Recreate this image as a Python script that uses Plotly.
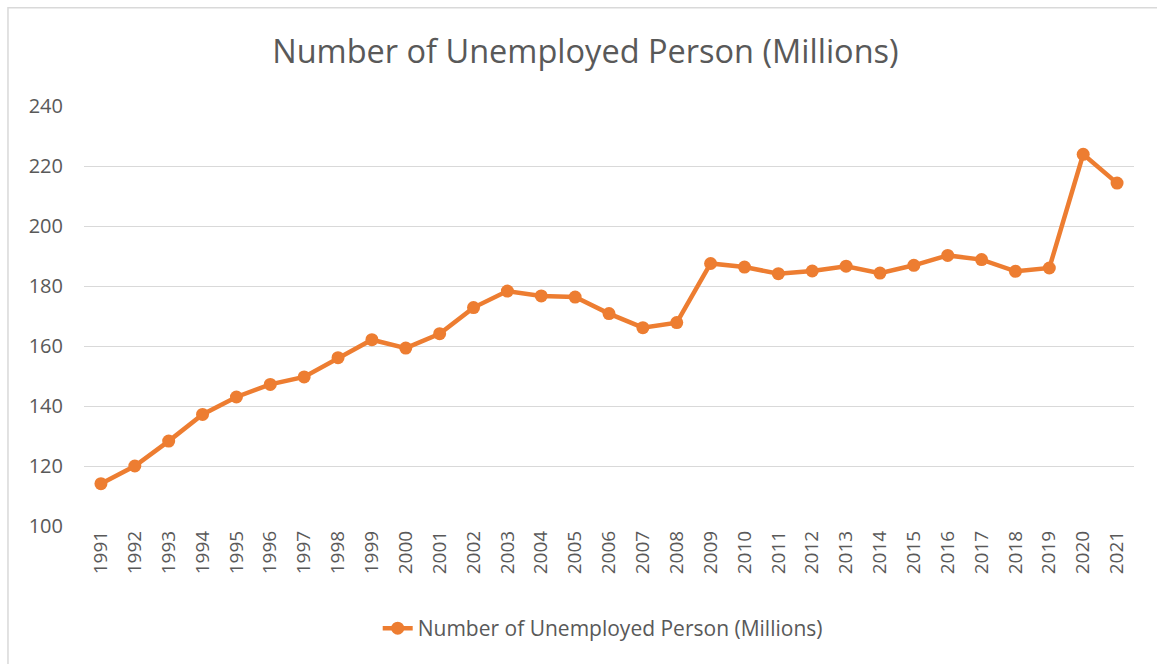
import plotly.graph_objects as go

years = [str(y) for y in range(1991, 2022)]
unemployed = [114.1, 120.0, 128.3, 137.2, 143.0, 147.2, 149.7, 156.1, 162.1, 159.3,
              164.1, 172.8, 178.3, 176.7, 176.3, 170.8, 166.1, 167.8, 187.5, 186.3,
              184.1, 185.0, 186.6, 184.3, 186.9, 190.2, 188.8, 184.9, 186.0, 223.9, 214.3]
y_ticks = [100, 120, 140, 160, 180, 200, 220, 240]

series_name = "Number of Unemployed Person (Millions)"
orange = "#ED7D31"
text_grey = "#595959"
font_family = "Open Sans, Liberation Sans, sans-serif"

fig = go.Figure()
fig.add_trace(go.Scatter(
    x=years, y=unemployed, mode="lines+markers", name=series_name,
    line=dict(color=orange, width=4.5),
    marker=dict(color=orange, size=13),
))

fig.update_layout(
    width=1157, height=664,
    margin=dict(l=84, r=23, t=106, b=138),
    paper_bgcolor="white", plot_bgcolor="white",
    font=dict(family=font_family, color=text_grey),
    title=dict(text=series_name, x=0.506, xanchor="center", y=0.922, yanchor="middle",
               font=dict(size=32.5, color=text_grey, family=font_family)),
    showlegend=True,
    legend=dict(orientation="h", x=0.494, xanchor="center", y=-0.244, yanchor="middle",
                font=dict(size=21, color=text_grey)),
    xaxis=dict(type="category", range=[-0.5, 30.5], tickangle=-90, showgrid=False,
               showline=False, ticks="", tickfont=dict(size=19, color=text_grey)),
    yaxis=dict(range=[100, 240], tickvals=y_ticks, showgrid=True, gridcolor="#D9D9D9",
               gridwidth=1, zeroline=False, showline=False, ticks="", ticklabelstandoff=20,
               tickfont=dict(size=20, color=text_grey)),
    shapes=[dict(type="rect", xref="paper", yref="paper", x0=-0.0724, x1=1.06,
                 y0=-0.5, y1=1.234, line=dict(color="#D9D9D9", width=1.5))],
)

fig.write_html("out.html")
